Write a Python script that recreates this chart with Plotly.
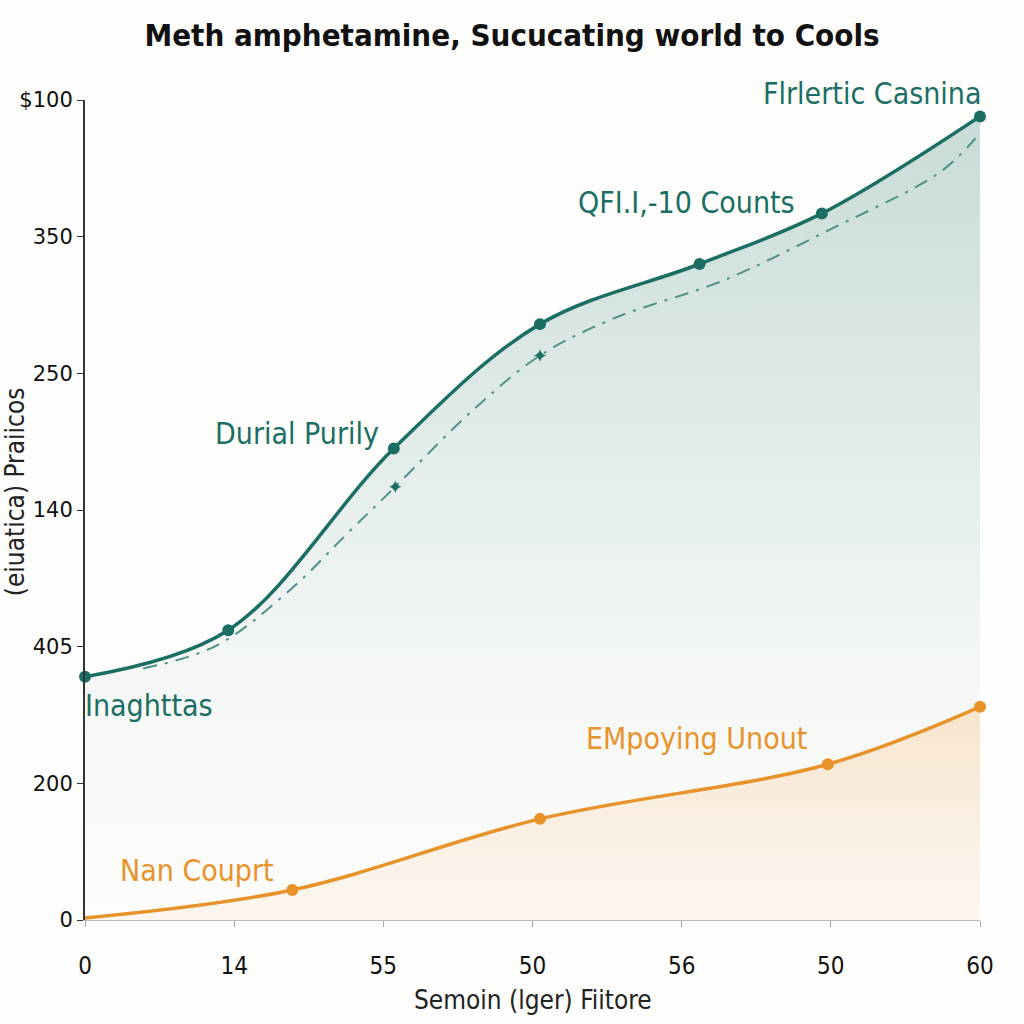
import plotly.graph_objects as go

# ---- data ----
x_tick_vals = [0, 10, 20, 30, 40, 50, 60]
x_tick_text = ["0", "14", "55", "50", "56", "50", "60"]
y_tick_vals = [0, 100, 200, 300, 400, 500, 600]
y_tick_text = ["0", "200", "405", "140", "250", "350", "$100"]

teal_x = [0, 9.6, 20.7, 30.5, 41.2, 49.4, 60]
teal_y = [178, 212, 345, 436, 480, 517, 588]

dash_x = [3.9, 8.85, 13.9, 17.6, 20.8, 26.0, 30.5, 35.4, 42.8, 49.9, 57.3, 59.7]
dash_y = [184, 201, 243, 283, 317, 373, 413, 440, 468, 505, 547, 572]
star_idx = [4, 6]

orange_x = [0, 13.9, 30.5, 49.8, 60]
orange_y = [1.5, 22, 74, 114, 156]

labels = [
    ("Inaghttas", 4.3, 157, "teal"),
    ("Durial Purily", 14.2, 356, "teal"),
    ("QFI.I,-10 Counts", 40.3, 525, "teal"),
    ("EMpoying Unout", 41.0, 133, "orange"),
    ("Nan Couprt", 7.5, 36, "orange"),
]
top_label = "Flrlertic Casnina"

TEAL = "#1b6e64"
TEAL_DASH = "#4f9088"
ORANGE = "#e8922a"
NARROW = "Liberation Sans Narrow, DejaVu Sans Condensed, sans-serif"

fig = go.Figure()

# teal area
fig.add_trace(go.Scatter(
    x=teal_x, y=teal_y, mode="lines", line=dict(color=TEAL, width=3.5, shape="spline"),
    fill="tozeroy",
    fillgradient=dict(type="vertical", start=0, stop=600,
                      colorscale=[[0, "rgba(27,110,100,0.0)"], [0.3, "rgba(27,110,100,0.04)"],
                                  [1, "rgba(27,110,100,0.24)"]]),
    hoverinfo="skip", showlegend=False, cliponaxis=False))

# dashed reference line
fig.add_trace(go.Scatter(
    x=dash_x, y=dash_y, mode="lines",
    line=dict(color=TEAL_DASH, width=2, dash="14px,8px,3px,8px", shape="spline"),
    showlegend=False, hoverinfo="skip"))
fig.add_trace(go.Scatter(
    x=[dash_x[i] for i in star_idx], y=[dash_y[i] for i in star_idx], mode="markers",
    marker=dict(symbol="star-diamond", size=9, color=TEAL),
    showlegend=False, hoverinfo="skip"))

# teal markers
fig.add_trace(go.Scatter(
    x=teal_x, y=teal_y, mode="markers", marker=dict(color=TEAL, size=12),
    showlegend=False, hoverinfo="skip", cliponaxis=False))

# orange area
fig.add_trace(go.Scatter(
    x=orange_x, y=orange_y, mode="lines", line=dict(color=ORANGE, width=3.5, shape="spline"),
    fill="tozeroy",
    fillgradient=dict(type="vertical", start=0, stop=160,
                      colorscale=[[0, "rgba(250,240,228,0.5)"], [1, "rgba(248,226,200,0.95)"]]),
    hoverinfo="skip", showlegend=False, cliponaxis=False))
fig.add_trace(go.Scatter(
    x=orange_x[1:], y=orange_y[1:], mode="markers", marker=dict(color=ORANGE, size=12),
    showlegend=False, hoverinfo="skip", cliponaxis=False))

for text, lx, ly, c in labels:
    fig.add_annotation(x=lx, y=ly, xref="x", yref="y", text=text, showarrow=False,
                       xanchor="center", yanchor="middle",
                       font=dict(family=NARROW, size=30,
                                 color=TEAL if c == "teal" else ORANGE))
fig.add_annotation(x=0.880, y=1.0085, xref="paper", yref="paper", text=top_label,
                   xanchor="center", yanchor="middle",
                   showarrow=False, font=dict(family=NARROW, size=30, color=TEAL))

# axis titles
fig.add_annotation(x=-0.078, y=0.522, xref="paper", yref="paper", text="(eiuatica) Praiicos",
                   textangle=-90, showarrow=False, xanchor="center", yanchor="middle",
                   font=dict(family=NARROW, size=26, color="#222222"))
fig.add_annotation(x=0.5006, y=-0.0976, xref="paper", yref="paper", text="Semoin (lger) Fiitore",
                   showarrow=False, xanchor="center", yanchor="middle",
                   font=dict(family=NARROW, size=26, color="#222222"))

fig.update_layout(
    width=1024, height=1024,
    margin=dict(l=85, r=44, t=100, b=104),
    paper_bgcolor="#fdfdfb", plot_bgcolor="#fdfdfb",
    title=dict(text="<b>Meth amphetamine, Sucucating world to Cools</b>",
               x=0.5, xanchor="center", y=0.966, yanchor="middle",
               font=dict(family="DejaVu Sans Condensed, sans-serif", size=31, color="#111111")),
    xaxis=dict(range=[0, 60], tickvals=x_tick_vals, ticktext=x_tick_text, automargin=False,
               showgrid=False, zeroline=False, showline=True, linecolor="#bbbbbb", linewidth=1,
               ticks="outside", ticklen=6, tickcolor="#aaaaaa", ticklabelstandoff=18,
               tickfont=dict(family=NARROW, size=24, color="#111111")),
    yaxis=dict(range=[0, 600], tickvals=y_tick_vals, ticktext=y_tick_text, automargin=False,
               showgrid=False, zeroline=False, showline=True, linecolor="#333333", linewidth=2,
               ticks="outside", ticklen=6, tickcolor="#333333", ticklabelstandoff=0,
               tickfont=dict(family="DejaVu Sans, sans-serif", size=21, color="#111111")),
)

fig.write_html("out.html")
